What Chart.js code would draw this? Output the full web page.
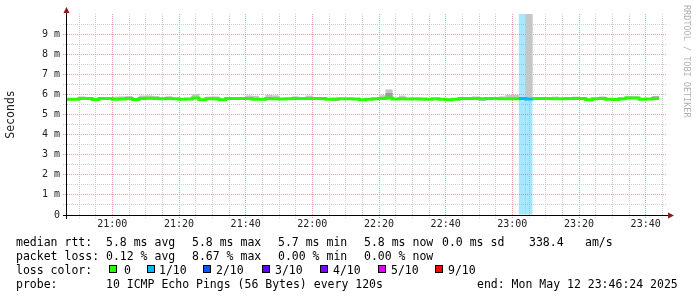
<!DOCTYPE html>
<html>
<head>
<meta charset="utf-8">
<script src="https://cdn.jsdelivr.net/npm/chart.js@4.4.1/dist/chart.umd.min.js"></script>
<style>
  html, body { margin: 0; padding: 0; background: #fff; }
  #wrap { position: relative; width: 697px; height: 297px; overflow: hidden; background: #fff; }
  #graph { position: absolute; left: 0; top: 0; }
  .txt { position: absolute; font-family: 'DejaVu Sans Mono', monospace; font-size: 11.5px; line-height: 14px; color: #000; white-space: pre; }
  .sw { position: absolute; width: 6px; height: 6px; border: 1px solid #000; }
  #mark { position: absolute; left: 682px; top: 5px; writing-mode: vertical-rl; font-family: 'DejaVu Sans Mono', monospace; font-size: 8.5px; line-height: 10px; color: #b0b0b0; white-space: pre; }
</style>
</head>
<body>
<div id="wrap">
  <canvas id="graph" width="697" height="297"></canvas>
  <div id="legend"></div>
  <div id="mark">RRDTOOL / TOBI OETIKER</div>
</div>
<script>
// visible window and 2 minute steps
const viewStart = '20:46:24'
const viewEnd = '23:46:24'
const stepStarts = [
  '20:46','20:48','20:50','20:52','20:54','20:56','20:58',
  '21:00','21:02','21:04','21:06','21:08','21:10','21:12','21:14','21:16','21:18',
  '21:20','21:22','21:24','21:26','21:28','21:30','21:32','21:34','21:36','21:38',
  '21:40','21:42','21:44','21:46','21:48','21:50','21:52','21:54','21:56','21:58',
  '22:00','22:02','22:04','22:06','22:08','22:10','22:12','22:14','22:16','22:18',
  '22:20','22:22','22:24','22:26','22:28','22:30','22:32','22:34','22:36','22:38',
  '22:40','22:42','22:44','22:46','22:48','22:50','22:52','22:54','22:56','22:58',
  '23:00','23:02','23:04','23:06','23:08','23:10','23:12','23:14','23:16','23:18',
  '23:20','23:22','23:24','23:26','23:28','23:30','23:32','23:34','23:36','23:38',
  '23:40','23:42'
]
const dataEnd = '23:44'

// median rtt in ms per step
const median = [
  5.76, 5.76, 5.80, 5.79, 5.75, 5.80, 5.80, 5.76, 5.77, 5.80,
  5.75, 5.80, 5.81, 5.80, 5.78, 5.79, 5.78, 5.76, 5.77, 5.82,
  5.74, 5.78, 5.78, 5.74, 5.79, 5.80, 5.80, 5.80, 5.76, 5.76,
  5.80, 5.78, 5.77, 5.78, 5.80, 5.80, 5.79, 5.80, 5.80, 5.76,
  5.77, 5.78, 5.78, 5.77, 5.74, 5.76, 5.78, 5.79, 5.82, 5.77,
  5.78, 5.77, 5.78, 5.77, 5.76, 5.78, 5.76, 5.74, 5.76, 5.80,
  5.80, 5.79, 5.78, 5.80, 5.80, 5.78, 5.78, 5.78, 5.80, 5.77,
  5.80, 5.80, 5.80, 5.78, 5.78, 5.79, 5.80, 5.80, 5.74, 5.78,
  5.80, 5.76, 5.75, 5.78, 5.82, 5.82, 5.76, 5.77, 5.80
]
// smoke (spread of the pings) per step
const smokeLo = [
  5.73, 5.73, 5.77, 5.76, 5.72, 5.77, 5.77, 5.73, 5.74, 5.77,
  5.72, 5.77, 5.78, 5.77, 5.75, 5.76, 5.75, 5.73, 5.74, 5.78,
  5.71, 5.75, 5.75, 5.71, 5.76, 5.77, 5.77, 5.77, 5.73, 5.73,
  5.77, 5.75, 5.74, 5.75, 5.77, 5.77, 5.76, 5.77, 5.77, 5.73,
  5.68, 5.75, 5.75, 5.74, 5.71, 5.73, 5.75, 5.76, 5.78, 5.74,
  5.75, 5.74, 5.75, 5.70, 5.73, 5.75, 5.73, 5.71, 5.73, 5.77,
  5.77, 5.76, 5.70, 5.77, 5.77, 5.75, 5.75, 5.75, 5.77, 5.74,
  5.77, 5.77, 5.77, 5.75, 5.75, 5.76, 5.77, 5.77, 5.71, 5.75,
  5.77, 5.73, 5.72, 5.75, 5.79, 5.79, 5.73, 5.74, 5.77
]
const smokeHi = [
  5.79, 5.79, 5.90, 5.82, 5.79, 5.83, 5.83, 5.89, 5.90, 5.92,
  5.79, 5.94, 5.95, 5.92, 5.81, 5.91, 5.81, 5.79, 5.80, 6.02,
  5.78, 5.89, 5.90, 5.78, 5.82, 5.83, 5.83, 5.95, 5.93, 5.80,
  5.97, 5.95, 5.80, 5.81, 5.90, 5.83, 5.94, 5.83, 5.83, 5.79,
  5.80, 5.81, 5.81, 5.80, 5.78, 5.79, 5.81, 5.96, 6.25, 5.80,
  5.94, 5.80, 5.81, 5.80, 5.79, 5.81, 5.79, 5.78, 5.79, 5.83,
  5.83, 5.90, 5.81, 5.83, 5.83, 5.90, 5.97, 5.98, 5.83, 10.50,
  5.83, 5.83, 5.83, 5.89, 5.81, 5.82, 5.89, 5.83, 5.78, 5.81,
  5.90, 5.79, 5.79, 5.81, 5.92, 5.91, 5.79, 5.80, 5.90
]
// darker inner smoke, only where it shows
const innerSteps = [40, 48, 62, 88]
const innerLo = [5.68, 5.82, 5.70, 5.80]
const innerHi = [5.75, 6.07, 5.76, 5.90]

// steps with packet loss, level is an index into lossLabels
const lossSteps = [68, 69]
const lossLevel = [1, 1]
const lossLabels = ['0', '1/10', '2/10', '3/10', '4/10', '5/10', '9/10']
const lossColors = ['#26ff00', '#00b8ff', '#0059ff', '#5e00ff', '#7e00ff', '#dd00ff', '#ff0000']

const yGrid = [0, 0.5, 1, 1.5, 2, 2.5, 3, 3.5, 4, 4.5, 5, 5.5, 6, 6.5, 7, 7.5, 8, 8.5, 9, 9.5]
const xLabelEvery = 1200 // seconds
const xGridEvery = 300

const majorGrid = '#e8a0a0'
const minorGrid = '#cfcfcf'

function toSec(s) {
    const p = s.split(':').map(Number)
    return p[0] * 3600 + p[1] * 60 + (p[2] || 0)
}
function hhmm(v) {
    const h = Math.floor(v / 3600), m = Math.floor((v % 3600) / 60)
    return String(h).padStart(2, '0') + ':' + String(m).padStart(2, '0')
}
function withAlpha(hex, a) {
    const n = parseInt(hex.slice(1), 16)
    return `rgba(${n >> 16},${(n >> 8) & 255},${n & 255},${a})`
}

const xMin = toSec(viewStart)
const xMax = toSec(viewEnd)
const half = 60

const lossAt = stepStarts.map(() => 0)
lossSteps.forEach((k, i) => { lossAt[k] = lossLevel[i] })

const medianPoints = stepStarts.map((s, k) => ({ x: toSec(s), y: median[k] }))
medianPoints.push({ x: toSec(dataEnd), y: median[median.length - 1] })

const xTicks = []
for (let v = Math.ceil(xMin / xGridEvery) * xGridEvery; v < xMax; v += xGridEvery) xTicks.push(v)

Chart.defaults.font.family = "'DejaVu Sans Mono', monospace"

const axisArrows = {
    id: 'axisArrows',
    afterDraw(chart) {
        const { ctx, chartArea: a } = chart
        ctx.save()
        ctx.strokeStyle = '#000'
        ctx.lineWidth = 1
        ctx.beginPath()
        ctx.moveTo(a.left - 4, a.bottom + 0.5)
        ctx.lineTo(a.right + 2, a.bottom + 0.5)
        ctx.moveTo(a.left - 0.5, a.top - 2)
        ctx.lineTo(a.left - 0.5, a.bottom + 4)
        ctx.stroke()
        ctx.fillStyle = '#8b1a1a'
        ctx.beginPath()
        ctx.moveTo(a.left - 0.5, a.top - 7)
        ctx.lineTo(a.left - 3.5, a.top - 1)
        ctx.lineTo(a.left + 2.5, a.top - 1)
        ctx.closePath()
        ctx.fill()
        ctx.beginPath()
        ctx.moveTo(a.right + 7, a.bottom + 0.5)
        ctx.lineTo(a.right + 1, a.bottom - 2.5)
        ctx.lineTo(a.right + 1, a.bottom + 3.5)
        ctx.closePath()
        ctx.fill()
        ctx.restore()
    }
}

const ctx = document.getElementById('graph').getContext('2d')
new Chart(ctx, {
    type: 'line',
    data: {
        datasets: [
            {
                type: 'line',
                label: 'median rtt',
                data: medianPoints,
                stepped: true,
                borderWidth: 3,
                borderColor: lossColors[0],
                pointRadius: 0,
                fill: false,
                order: 0,
                segment: {
                    borderColor: c => lossColors[lossAt[Math.min(c.p0DataIndex, lossAt.length - 1)]]
                }
            },
            {
                type: 'bar',
                label: 'inner smoke',
                data: innerSteps.map((k, i) => ({ x: toSec(stepStarts[k]) + half, y: [innerLo[i], innerHi[i]] })),
                backgroundColor: '#9c9c9c',
                grouped: false,
                categoryPercentage: 1,
                barPercentage: 1.06,
                borderWidth: 0,
                order: 1
            },
            {
                type: 'bar',
                label: 'smoke',
                data: stepStarts.map((s, k) => ({ x: toSec(s) + half, y: [smokeLo[k], smokeHi[k]] })),
                backgroundColor: '#c6c6c6',
                grouped: false,
                categoryPercentage: 1,
                barPercentage: 1.06,
                borderWidth: 0,
                order: 2
            },
            {
                type: 'bar',
                label: 'loss',
                data: lossSteps.map(k => ({ x: toSec(stepStarts[k]) + half, y: [0, 10] })),
                backgroundColor: lossLevel.map(l => withAlpha(lossColors[l], 0.34)),
                grouped: false,
                categoryPercentage: 1,
                barPercentage: 1.06,
                borderWidth: 0,
                order: 3
            }
        ]
    },
    options: {
        responsive: false,
        animation: false,
        devicePixelRatio: 1,
        layout: { padding: { top: 14, right: 30, left: 0, bottom: 0 } },
        plugins: { legend: { display: false }, tooltip: { enabled: false } },
        scales: {
            x: {
                type: 'linear',
                min: xMin,
                max: xMax,
                offset: false,
                afterBuildTicks: s => { s.ticks = xTicks.map(v => ({ value: v })) },
                afterFit: s => { s.height = 82 },
                ticks: {
                    autoSkip: false,
                    maxRotation: 0,
                    minRotation: 0,
                    padding: 0,
                    color: '#222',
                    font: { size: 10 },
                    callback: v => (v % xLabelEvery === 0 ? hhmm(v) : '')
                },
                grid: {
                    offset: false,
                    color: c => (c.tick && c.tick.value % xLabelEvery === 0 ? majorGrid : minorGrid),
                    tickLength: 3,
                    tickBorderDash: [1, 1]
                },
                border: { display: false, dash: [1, 1] }
            },
            y: {
                min: 0,
                max: 10,
                afterBuildTicks: s => { s.ticks = yGrid.map(v => ({ value: v })) },
                afterFit: s => { s.width = 67 },
                ticks: {
                    autoSkip: false,
                    padding: 3,
                    color: '#222',
                    font: { size: 10 },
                    callback: v => (Number.isInteger(v) ? (v === 0 ? '0' : v + ' m') : '')
                },
                grid: {
                    color: c => (c.tick && Number.isInteger(c.tick.value) ? majorGrid : minorGrid),
                    tickLength: 4,
                    tickBorderDash: [1, 1]
                },
                border: { display: false, dash: [1, 1] },
                title: {
                    display: true,
                    text: 'Seconds',
                    color: '#222',
                    font: { size: 11.5 },
                    padding: { top: 4, bottom: 0 }
                }
            }
        }
    },
    plugins: [axisArrows]
})

// text legend under the graph
const legendRows = [
    [[16, 'median rtt:'], [106, '5.8 ms avg'], [192, '5.8 ms max'], [278, '5.7 ms min'], [364, '5.8 ms now'], [442, '0.0 ms sd'], [529, '338.4'], [585, 'am/s']],
    [[16, 'packet loss:'], [106, '0.12 % avg'], [192, '8.67 % max'], [278, '0.00 % min'], [364, '0.00 % now']],
    [[16, 'loss color:']],
    [[16, 'probe:'], [106, '10 ICMP Echo Pings (56 Bytes) every 120s'], [477, 'end: Mon May 12 23:46:24 2025']]
]
const rowTop = [234.5, 248.5, 262.5, 276.5]
const swatchX = [109, 147, 203, 262, 320, 378, 435]
const swatchTextX = [124, 159, 216, 275, 333, 391, 448]

const legend = document.getElementById('legend')
legendRows.forEach((row, r) => {
    row.forEach(([x, text]) => {
        const span = document.createElement('span')
        span.className = 'txt'
        span.style.left = x + 'px'
        span.style.top = rowTop[r] + 'px'
        span.textContent = text
        legend.appendChild(span)
    })
})
lossLabels.forEach((label, i) => {
    const box = document.createElement('div')
    box.className = 'sw'
    box.style.left = swatchX[i] + 'px'
    box.style.top = '265px'
    box.style.background = lossColors[i]
    legend.appendChild(box)
    const span = document.createElement('span')
    span.className = 'txt'
    span.style.left = swatchTextX[i] + 'px'
    span.style.top = rowTop[2] + 'px'
    span.textContent = label
    legend.appendChild(span)
})
</script>
</body>
</html>
